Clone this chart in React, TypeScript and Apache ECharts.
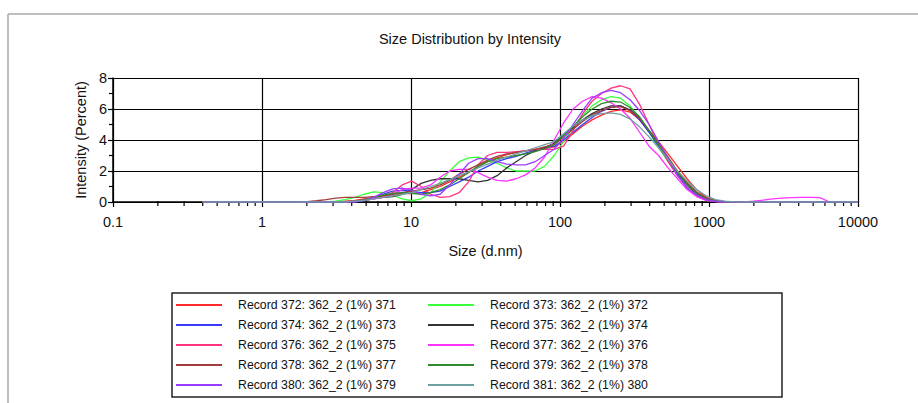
import React, { useEffect, useRef } from "react";
import * as echarts from "echarts";

// Size bins (d.nm)
const sizes = [
  0.4, 0.4632, 0.5365, 0.6213, 0.7195, 0.8332, 0.9649, 1.117, 1.294, 1.499,
  1.736, 2.01, 2.328, 2.696, 3.122, 3.615, 4.187, 4.849, 5.615, 6.503,
  7.531, 8.721, 10.1, 11.7, 13.54, 15.69, 18.17, 21.04, 24.36, 28.21,
  32.67, 37.84, 43.82, 50.75, 58.77, 68.06, 78.82, 91.28, 105.7, 122.4,
  141.8, 164.2, 190.1, 220.2, 255, 295.3, 342, 396.1, 458.7, 531.2,
  615.1, 712.4, 825, 955.4, 1106, 1281, 1484, 1718, 1990, 2305,
  2669, 3091, 3580, 4145, 4801, 5560, 6439, 7456, 8635, 10000,
];

const rec372 = [
  0, 0, 0, 0, 0, 0, 0, 0, 0, 0,
  0, 0, 0, 0, 0, 0.05, 0.1, 0.2, 0.3, 0.4,
  0.5, 0.55, 0.55, 0.6, 0.8, 1.0, 1.3, 1.6, 1.9, 2.3,
  2.6, 2.85, 3.05, 3.2, 3.3, 3.4, 3.45, 3.55, 3.9, 4.4,
  4.9, 5.3, 5.6, 5.85, 5.95, 5.8, 5.3, 4.6, 3.9, 3.1,
  2.3, 1.5, 0.8, 0.3, 0.1, 0.02, 0, 0, 0, 0,
  0, 0, 0, 0, 0, 0, 0, 0, 0, 0,
];
const rec373 = [
  0, 0, 0, 0, 0, 0, 0, 0, 0, 0,
  0, 0, 0, 0, 0.05, 0.15, 0.3, 0.5, 0.65, 0.6,
  0.45, 0.2, 0.08, 0.2, 0.6, 1.3, 2.0, 2.6, 2.85, 2.9,
  2.7, 2.5, 2.2, 2.0, 2.0, 2.0, 2.3, 3.0, 3.9, 4.8,
  5.6, 6.2, 6.6, 6.8, 6.7, 6.2, 5.4, 4.5, 3.5, 2.6,
  1.7, 1.0, 0.45, 0.15, 0.04, 0, 0, 0, 0, 0,
  0, 0, 0, 0, 0, 0, 0, 0, 0, 0,
];
const rec374 = [
  0, 0, 0, 0, 0, 0, 0, 0, 0, 0,
  0, 0, 0, 0, 0, 0, 0, 0.1, 0.3, 0.5,
  0.7, 0.75, 0.7, 0.6, 0.6, 0.7, 1.0, 1.3, 1.6, 2.0,
  2.3, 2.6, 2.8, 2.95, 3.15, 3.35, 3.5, 3.6, 4.0, 4.5,
  5.0, 5.45, 5.85, 6.1, 6.2, 5.9, 5.3, 4.5, 3.6, 2.7,
  1.8, 1.1, 0.5, 0.18, 0.05, 0, 0, 0, 0, 0,
  0, 0, 0, 0, 0, 0, 0, 0, 0, 0,
];
const rec375 = [
  0, 0, 0, 0, 0, 0, 0, 0, 0, 0,
  0, 0, 0, 0, 0, 0, 0, 0.1, 0.2, 0.3,
  0.35, 0.5, 0.8, 1.2, 1.4, 1.5, 1.5, 1.5, 1.4, 1.3,
  1.4, 1.7, 2.2, 2.6, 3.0, 3.3, 3.5, 3.8, 4.3, 4.8,
  5.3, 5.7, 6.0, 6.2, 6.2, 5.95, 5.4, 4.6, 3.7, 2.8,
  1.9, 1.2, 0.6, 0.22, 0.06, 0, 0, 0, 0, 0,
  0, 0, 0, 0, 0, 0, 0, 0, 0, 0,
];
const rec376 = [
  0, 0, 0, 0, 0, 0, 0, 0, 0, 0,
  0, 0, 0, 0, 0, 0, 0.05, 0.1, 0.2, 0.4,
  0.6, 1.1, 1.35, 1.0, 0.5, 0.3, 0.35, 0.6, 1.3, 2.4,
  3.0, 3.2, 3.2, 3.25, 3.3, 3.4, 3.4, 3.4, 3.6, 4.6,
  5.7, 6.5, 7.0, 7.35, 7.5, 7.3, 6.3, 5.0, 3.7, 2.6,
  1.7, 0.95, 0.4, 0.12, 0.03, 0, 0, 0, 0, 0,
  0, 0, 0, 0, 0, 0, 0, 0, 0, 0,
];
const rec377 = [
  0, 0, 0, 0, 0, 0, 0, 0, 0, 0,
  0, 0, 0, 0, 0, 0, 0.05, 0.1, 0.2, 0.3,
  0.5, 0.8, 0.9, 0.9, 1.1, 1.6, 2.0, 2.1, 2.1, 1.9,
  1.6, 1.4, 1.35, 1.5, 1.75, 2.2, 2.9, 4.0, 5.1, 6.0,
  6.5, 6.8, 6.7, 6.4, 6.0, 5.4, 4.5, 3.6, 3.0, 2.2,
  1.5, 0.8, 0.35, 0.1, 0.02, 0, 0, 0, 0.05, 0.12,
  0.2, 0.25, 0.28, 0.3, 0.3, 0.28, 0, 0, 0, 0,
];
const rec378 = [
  0, 0, 0, 0, 0, 0, 0, 0, 0, 0,
  0, 0.02, 0.08, 0.15, 0.25, 0.3, 0.3, 0.3, 0.35, 0.4,
  0.5, 0.6, 0.7, 0.8, 0.9, 1.1, 1.4, 1.8, 2.1, 2.4,
  2.7, 2.95, 3.1, 3.2, 3.3, 3.4, 3.55, 3.7, 4.2, 4.7,
  5.2, 5.6, 5.9, 6.1, 6.15, 5.9, 5.4, 4.6, 3.8, 2.9,
  2.0, 1.25, 0.65, 0.25, 0.07, 0, 0, 0, 0, 0,
  0, 0, 0, 0, 0, 0, 0, 0, 0, 0,
];
const rec379 = [
  0, 0, 0, 0, 0, 0, 0, 0, 0, 0,
  0, 0, 0, 0, 0, 0, 0.05, 0.15, 0.3, 0.45,
  0.55, 0.6, 0.55, 0.5, 0.6, 0.8, 1.1, 1.5, 1.9, 2.3,
  2.6, 2.8, 2.9, 3.0, 3.1, 3.25, 3.45, 3.7, 4.3, 4.9,
  5.5, 6.0, 6.35, 6.5, 6.45, 6.1, 5.5, 4.6, 3.7, 2.8,
  1.9, 1.15, 0.55, 0.2, 0.05, 0, 0, 0, 0, 0,
  0, 0, 0, 0, 0, 0, 0, 0, 0, 0,
];
const rec380 = [
  0, 0, 0, 0, 0, 0, 0, 0, 0, 0,
  0, 0, 0, 0, 0, 0, 0, 0.1, 0.3, 0.6,
  0.85, 0.9, 0.75, 0.5, 0.4, 0.5, 1.1, 1.8, 2.5, 2.8,
  2.8, 2.6, 2.45, 2.4, 2.4, 2.6, 3.0, 3.4, 4.1, 5.0,
  5.9, 6.7, 7.05, 7.2, 7.05, 6.6, 5.9, 5.0, 3.9, 2.8,
  1.7, 0.9, 0.45, 0.15, 0.04, 0, 0, 0, 0, 0,
  0, 0, 0, 0, 0, 0, 0, 0, 0, 0,
];
const rec381 = [
  0, 0, 0, 0, 0, 0, 0, 0, 0, 0,
  0, 0, 0, 0, 0, 0, 0.05, 0.1, 0.2, 0.3,
  0.4, 0.5, 0.6, 0.8, 1.0, 1.2, 1.45, 1.7, 1.95, 2.2,
  2.45, 2.7, 2.9, 3.1, 3.3, 3.5, 3.7, 3.9, 4.4, 4.9,
  5.3, 5.55, 5.7, 5.75, 5.65, 5.35, 4.85, 4.2, 3.5, 2.75,
  2.0, 1.35, 0.8, 0.4, 0.15, 0.05, 0.01, 0, 0, 0,
  0, 0, 0, 0, 0, 0, 0, 0, 0, 0,
];

const seriesNames = [
  "Record 372: 362_2 (1%) 371",
  "Record 373: 362_2 (1%) 372",
  "Record 374: 362_2 (1%) 373",
  "Record 375: 362_2 (1%) 374",
  "Record 376: 362_2 (1%) 375",
  "Record 377: 362_2 (1%) 376",
  "Record 378: 362_2 (1%) 377",
  "Record 379: 362_2 (1%) 378",
  "Record 380: 362_2 (1%) 379",
  "Record 381: 362_2 (1%) 380",
];
const seriesValues = [rec372, rec373, rec374, rec375, rec376, rec377, rec378, rec379, rec380, rec381];
const seriesColors = [
  "#ff2a2a", "#3cff3c", "#3a3aff", "#333333", "#ff3380",
  "#ff33ff", "#a33c3c", "#2e8b2e", "#9a3cff", "#6f9fa3",
];

const xTickLabels = [0.1, 1, 10, 100, 1000, 10000];
const yTickLabels = [0, 2, 4, 6, 8];

const FONT = "'Liberation Sans', Arial, sans-serif";
const FS = 14.5;
const LEGEND_FS = 12.3;

export default function App() {
  const ref = useRef<HTMLDivElement>(null);

  useEffect(() => {
    if (!ref.current) return;
    const chart = echarts.init(ref.current, undefined, { renderer: "svg" });

    // minor tick positions 2..9 within each decade
    const minorTicks: number[][] = [];
    for (let d = 0; d < xTickLabels.length - 1; d++) {
      for (let m = 2; m <= 9; m++) minorTicks.push([xTickLabels[d] * m, 0]);
    }

    const lineSeries = seriesNames.map((name, i) => ({
      name,
      type: "line",
      data: sizes.map((s, j) => [s, seriesValues[i][j]]),
      showSymbol: false,
      symbol: "none",
      lineStyle: { color: seriesColors[i], width: 1.3 },
      itemStyle: { color: seriesColors[i] },
      smooth: false,
      z: 3,
    }));

    const leftNames = seriesNames.filter((_, i) => i % 2 === 0);
    const rightNames = seriesNames.filter((_, i) => i % 2 === 1);

    const legendCommon = {
      orient: "vertical",
      top: 297,
      padding: 0,
      icon: "rect",
      itemWidth: 46,
      itemHeight: 2,
      itemGap: 4,
      textStyle: {
        fontFamily: FONT,
        fontSize: LEGEND_FS,
        color: "#111",
        lineHeight: 16,
        padding: [0, 0, 0, 11],
      },
      selectedMode: false,
    };

    chart.setOption({
      animation: false,
      backgroundColor: "#fff",
      title: {
        text: "Size Distribution by Intensity",
        left: 470,
        top: 31,
        textAlign: "center",
        padding: 0,
        textStyle: { fontFamily: FONT, fontSize: FS, fontWeight: "normal", color: "#111" },
      },
      grid: { left: 113, right: 60, top: 78, bottom: 201, containLabel: false },
      xAxis: {
        type: "log",
        logBase: 10,
        min: 0.1,
        max: 10000,
        name: "Size (d.nm)",
        nameLocation: "middle",
        nameGap: 41,
        nameTextStyle: { fontFamily: FONT, fontSize: FS, color: "#111" },
        axisLine: { show: true, onZero: false, lineStyle: { color: "#000", width: 1.5 } },
        axisTick: { show: true, length: 5, lineStyle: { color: "#000", width: 1.2 } },
        axisLabel: {
          fontFamily: FONT,
          fontSize: FS,
          color: "#111",
          margin: 12,
          formatter: (v: number) => {
            const hit = xTickLabels.find((t) => Math.abs(t - v) / t < 1e-6);
            return hit !== undefined ? String(hit) : "";
          },
        },
        splitLine: { show: true, lineStyle: { color: "#000", width: 1.2 } },
      },
      yAxis: {
        type: "value",
        min: 0,
        max: 8,
        interval: 2,
        name: "Intensity (Percent)",
        nameLocation: "middle",
        nameGap: 24,
        nameTextStyle: { fontFamily: FONT, fontSize: FS, color: "#111" },
        axisLine: { show: true, lineStyle: { color: "#000", width: 1.5 } },
        axisTick: { show: true, length: 5, lineStyle: { color: "#000", width: 1.2 } },
        minorTick: { show: true, splitNumber: 2, length: 4, lineStyle: { color: "#000", width: 1.2 } },
        axisLabel: {
          fontFamily: FONT,
          fontSize: FS,
          color: "#111",
          margin: 6,
          formatter: (v: number) => (yTickLabels.includes(v) ? String(v) : ""),
        },
        splitLine: { show: true, lineStyle: { color: "#000", width: 1.2 } },
      },
      legend: [
        { ...legendCommon, left: 176, data: leftNames },
        { ...legendCommon, left: 428, data: rightNames },
      ],
      graphic: [
        { type: "line", shape: { x1: 8, y1: 14, x2: 918, y2: 14 }, style: { stroke: "#a8a8a8", lineWidth: 1.5 }, silent: true },
        { type: "line", shape: { x1: 8, y1: 14, x2: 8, y2: 403 }, style: { stroke: "#a8a8a8", lineWidth: 1.5 }, silent: true },
        {
          type: "rect",
          shape: { x: 172, y: 293, width: 610, height: 104 },
          style: { fill: "none", stroke: "#222", lineWidth: 1.5 },
          silent: true,
        },
      ],
      series: [
        {
          type: "custom",
          name: "minorTicks",
          silent: true,
          clip: false,
          data: minorTicks,
          z: 1,
          renderItem: (_params: any, api: any) => {
            const p = api.coord([api.value(0), 0]);
            return {
              type: "line",
              shape: { x1: p[0], y1: p[1] - 1, x2: p[0], y2: p[1] + 4 },
              style: { stroke: "#000", lineWidth: 1.2 },
            };
          },
        },
        ...lineSeries,
      ],
    });

    return () => chart.dispose();
  }, []);

  return (
    <div
      ref={ref}
      style={{ position: "fixed", left: 0, top: 0, width: 918, height: 403, background: "#fff" }}
    />
  );
}
